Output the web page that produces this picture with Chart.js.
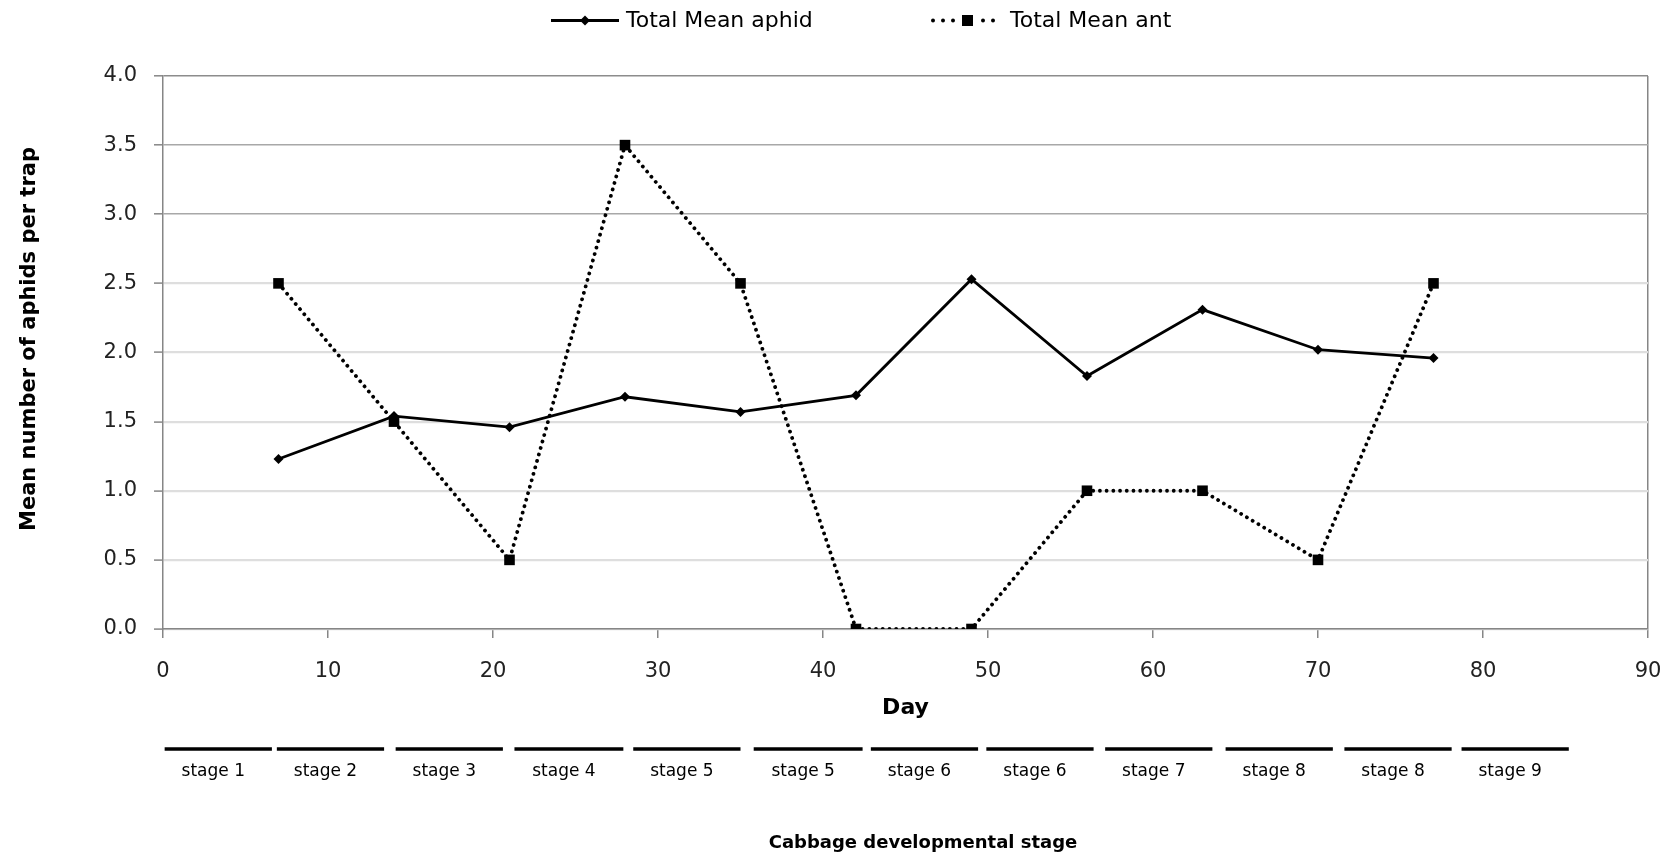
<!DOCTYPE html>
<html>
<head>
<meta charset="utf-8">
<script src="https://cdn.jsdelivr.net/npm/chart.js@4/dist/chart.umd.min.js"></script>
<style>
  html, body { margin: 0; padding: 0; background: #fff; }
  #wrap { width: 1669px; height: 858px; position: relative; }
</style>
</head>
<body>
<div id="wrap"><canvas id="chart" width="1669" height="858"></canvas></div>
<script>
// Sampling days and the two series (mean per trap)
const days      = [7, 14, 21, 28, 35, 42, 49, 56, 63, 70, 77];
const aphidMean = [1.23, 1.54, 1.46, 1.68, 1.57, 1.69, 2.53, 1.83, 2.31, 2.02, 1.96];
const antMean   = [2.5, 1.5, 0.5, 3.5, 2.5, 0.0, 0.0, 1.0, 1.0, 0.5, 2.5];

// Axis tick values
const xTicks = [0, 10, 20, 30, 40, 50, 60, 70, 80, 90];
const yTicks = [0, 0.5, 1.0, 1.5, 2.0, 2.5, 3.0, 3.5, 4.0];

// Cabbage developmental stages, spans given in days
const stageLabels = ['stage 1', 'stage 2', 'stage 3', 'stage 4', 'stage 5', 'stage 5',
                     'stage 6', 'stage 6', 'stage 7', 'stage 8', 'stage 8', 'stage 9'];
const stageStart  = [0.1, 6.9, 14.1, 21.3, 28.5, 35.8, 42.9, 49.9, 57.1, 64.4, 71.6, 78.7];
const stageEnd    = [6.6, 13.4, 20.6, 27.9, 35.0, 42.4, 49.4, 56.4, 63.6, 70.9, 78.1, 85.2];

const FONT = '"DejaVu Sans", "Open Sans", sans-serif';
const AXIS_GREY = '#868686';
const Y_TITLE = 'Mean number of aphids per trap';

const toPoints = vals => days.map((d, i) => ({ x: d, y: vals[i] }));

// Legend across the top plus the rotated value-axis title
const topLegend = {
  id: 'topLegend',
  afterDraw(chart) {
    const ctx = chart.ctx;
    const y = 20.5;
    ctx.save();
    ctx.fillStyle = '#000';
    ctx.strokeStyle = '#000';

    // solid line + diamond
    ctx.lineWidth = 2.8;
    ctx.beginPath(); ctx.moveTo(551, y); ctx.lineTo(619, y); ctx.stroke();
    ctx.beginPath();
    ctx.moveTo(585, y - 5); ctx.lineTo(590, y); ctx.lineTo(585, y + 5); ctx.lineTo(580, y);
    ctx.closePath(); ctx.fill();

    // dotted sample + square
    [933, 943, 953, 983, 993].forEach(px => {
      ctx.beginPath(); ctx.arc(px, y, 2, 0, Math.PI * 2); ctx.fill();
    });
    ctx.fillRect(962, y - 5.5, 11, 11);

    ctx.font = '22px ' + FONT;
    ctx.textBaseline = 'middle';
    ctx.textAlign = 'left';
    ctx.fillText('Total Mean aphid', 626, y + 1);
    ctx.fillText('Total Mean ant', 1010, y + 1);

    // value-axis title
    ctx.translate(30, 339);
    ctx.rotate(-Math.PI / 2);
    ctx.textAlign = 'center';
    ctx.font = 'bold 21px ' + FONT;
    ctx.fillText(Y_TITLE, 0, 0);
    ctx.restore();
  }
};

// Stage bars and labels under the day axis
const stageBand = {
  id: 'stageBand',
  afterDraw(chart) {
    const { ctx, scales: { x } } = chart;
    const barY = 749, labelY = 772;
    ctx.save();
    ctx.strokeStyle = '#000';
    ctx.fillStyle = '#000';
    ctx.lineWidth = 3.5;
    ctx.font = '17px ' + FONT;
    ctx.textAlign = 'center';
    ctx.textBaseline = 'middle';
    stageLabels.forEach((label, i) => {
      const x0 = x.getPixelForValue(stageStart[i]);
      const x1 = x.getPixelForValue(stageEnd[i]);
      ctx.beginPath(); ctx.moveTo(x0, barY); ctx.lineTo(x1, barY); ctx.stroke();
      ctx.fillText(label, (x0 + x1) / 2 - 5, labelY);
    });
    ctx.font = 'bold 18px ' + FONT;
    ctx.fillText('Cabbage developmental stage', 923, 843);
    ctx.restore();
  }
};

new Chart(document.getElementById('chart'), {
  type: 'line',
  data: {
    datasets: [
      {
        label: 'Total Mean aphid',
        data: toPoints(aphidMean),
        borderColor: '#000',
        backgroundColor: '#000',
        borderWidth: 2.8,
        pointStyle: 'rectRot',
        pointRadius: 5,
        pointHoverRadius: 5,
        pointBorderWidth: 0,
        tension: 0,
        fill: false
      },
      {
        label: 'Total Mean ant',
        data: toPoints(antMean),
        borderColor: '#000',
        backgroundColor: '#000',
        borderWidth: 3.8,
        borderDash: [0.01, 6.7],
        borderCapStyle: 'round',
        pointStyle: 'rect',
        pointRadius: 7.5,
        pointHoverRadius: 7.5,
        pointBorderWidth: 0,
        tension: 0,
        fill: false
      }
    ]
  },
  options: {
    responsive: false,
    animation: false,
    devicePixelRatio: 1,
    layout: { padding: { top: 76, right: 21, bottom: 129, left: 0 } },
    plugins: {
      legend: { display: false },
      tooltip: { enabled: false }
    },
    scales: {
      x: {
        type: 'linear',
        min: 0,
        max: 90,
        afterBuildTicks: s => { s.ticks = xTicks.map(v => ({ value: v })); },
        afterFit: s => { s.height = 100; s.paddingLeft = 13; s.paddingRight = 13; },
        ticks: {
          font: { family: FONT, size: 21 },
          color: '#222',
          padding: 21,
          maxRotation: 0,
          autoSkip: false
        },
        grid: {
          color: c => (c.tick && c.tick.value === 90) ? AXIS_GREY : 'rgba(0,0,0,0)',
          lineWidth: 1.5,
          tickColor: AXIS_GREY,
          tickWidth: 1.5,
          tickLength: 9
        },
        border: { color: AXIS_GREY, width: 1.5 },
        title: {
          display: true,
          text: 'Day',
          font: { family: FONT, size: 22, weight: 'bold' },
          color: '#000',
          padding: { top: 0, bottom: 8 }
        }
      },
      y: {
        type: 'linear',
        min: 0,
        max: 4,
        afterBuildTicks: s => { s.ticks = yTicks.map(v => ({ value: v })); },
        afterFit: s => { s.width = 163; },
        ticks: {
          font: { family: FONT, size: 21 },
          color: '#222',
          padding: 17,
          callback: v => Number(v).toFixed(1)
        },
        grid: {
          color: c => {
            const v = c.tick ? c.tick.value : 0;
            if (v >= 4) return '#8c8c8c';
            if (v >= 3) return '#a8a8a8';
            return '#dedede';
          },
          lineWidth: c => ((c.tick ? c.tick.value : 0) >= 3 ? 1.6 : 2.2),
          tickColor: AXIS_GREY,
          tickWidth: 1.5,
          tickLength: 9
        },
        border: { color: AXIS_GREY, width: 1.5 },
        title: { display: false }
      }
    }
  },
  plugins: [topLegend, stageBand]
});
</script>
</body>
</html>
